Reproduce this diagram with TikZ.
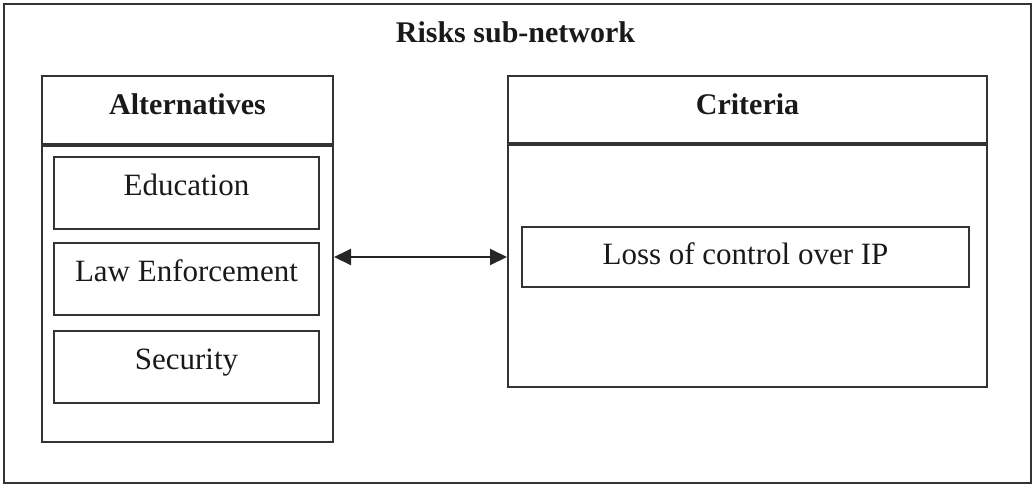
\documentclass[tikz,border=0pt]{standalone}
\usepackage{fontspec}
\setmainfont{Liberation Serif}
\usetikzlibrary{arrows.meta}
\begin{document}
\begin{tikzpicture}[x=1pt,y=-1pt,
  line width=2pt,
  box/.style={draw=black!80, line width=2pt, rectangle, inner sep=0pt, align=center,
              font=\fontsize{31}{36}\selectfont, text=black!90},
  hdr/.style={box, font=\fontsize{30}{36}\selectfont\bfseries},
  item/.style={box, anchor=north, minimum width=265pt, text height=38pt, text depth=34pt},
  link/.style={draw=black!85, line width=2pt, {Triangle[length=17pt,width=16pt]}-{Triangle[length=17pt,width=16pt]}}
]
\useasboundingbox (0,0) rectangle (1033,485);
% outer frame
\node[draw=black!80, line width=2pt, rectangle, inner sep=0pt, anchor=north west,
      minimum width=1027pt, minimum height=479pt] (frame) at (3,3) {};
\node[font=\fontsize{30}{36}\selectfont\bfseries, text=black!90, anchor=base, inner sep=0pt] (title) at (515.5,42) {Risks sub-network};
% Alternatives
\node[hdr, anchor=north west, minimum width=291pt, text height=38pt, text depth=30pt] (altHead) at (41,75) {Alternatives};
\node[box, anchor=north, minimum width=291pt, minimum height=296pt] (altBody) at (altHead.south) {};
\node[item] (edu) at (186.5,156) {Education};
\node[item] (law) at (186.5,242) {Law Enforcement};
\node[item] (sec) at (186.5,330) {Security};
% Criteria
\node[hdr, anchor=north west, minimum width=479pt, text height=38pt, text depth=29pt] (critHead) at (507,75) {Criteria};
\node[box, anchor=north, minimum width=479pt, minimum height=242pt] (critBody) at (critHead.south) {};
\node[box, anchor=north, minimum width=447pt, text height=37pt, text depth=23pt] (loss) at (745.5,226) {Loss of control over IP};
% connector
\draw[link] (altBody.east |- loss.center) -- (critBody.west |- loss.center);
\end{tikzpicture}
\end{document}
